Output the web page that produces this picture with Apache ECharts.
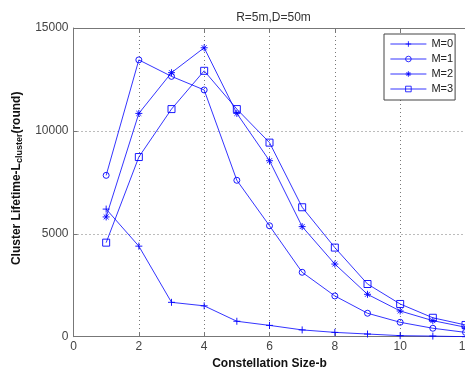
<!DOCTYPE html>
<html>
<head>
<meta charset="utf-8">
<script src="https://cdn.jsdelivr.net/npm/echarts@6/dist/echarts.min.js"></script>
<style>
  html, body { margin: 0; padding: 0; background: #fff; }
  #main { width: 465px; height: 370px; }
</style>
</head>
<body>
<div id="main"></div>
<script>
// constellation size b
var sizes = [1, 2, 3, 4, 5, 6, 7, 8, 9, 10, 11, 12];
var m0 = [6200, 4400, 1670, 1500, 750, 550, 330, 210, 130, 50, 30, 0];
var m1 = [7840, 13450, 12650, 11990, 7600, 5390, 3130, 1980, 1140, 700, 410, 210];
var m2 = [5820, 10850, 12830, 14040, 10850, 8550, 5350, 3530, 2060, 1250, 780, 460];
var m3 = [4570, 8730, 11060, 12920, 11060, 9430, 6290, 4330, 2560, 1590, 920, 570];
var seriesNames = ['M=0', 'M=1', 'M=2', 'M=3'];

function pairs(arr) {
  return sizes.map(function (b, i) { return [b, arr[i]]; });
}

// matlab style markers, stroked only
var plusPath = 'path://M5,0 L5,10 M0,5 L10,5';
var circlePath = 'path://M0,5 A5,5 0 1,0 10,5 A5,5 0 1,0 0,5 Z';
var starPath = 'path://M5,0 L5,10 M0,5 L10,5 M1.5,1.5 L8.5,8.5 M1.5,8.5 L8.5,1.5';
var squarePath = 'path://M0,0 L10,0 L10,10 L0,10 Z';

var blue = '#0000ff';
var font = 'Liberation Sans, Arial, sans-serif';

function mkSeries(name, data, symbol, size) {
  return {
    name: name,
    type: 'line',
    data: pairs(data),
    symbol: symbol,
    symbolSize: size,
    showAllSymbol: true,
    lineStyle: { color: blue, width: 0.8 },
    itemStyle: { color: 'none', borderColor: blue, borderWidth: 0.9 },
    emphasis: { disabled: true },
    z: 3
  };
}

var chart = echarts.init(document.getElementById('main'), null, { renderer: 'canvas' });

var option = {
  animation: false,
  title: {
    text: 'R=5m,D=50m',
    left: 268.5,
    textAlign: 'center',
    top: 7,
    textStyle: { fontSize: 12, fontWeight: 'normal', color: '#333', fontFamily: font }
  },
  legend: {
    data: seriesNames,
    orient: 'vertical',
    left: 384,
    top: 34,
    padding: [4, 2, 5, 6],
    itemWidth: 36,
    itemHeight: 7,
    itemGap: 3,
    borderColor: '#444',
    borderWidth: 1,
    borderRadius: 0,
    backgroundColor: '#fff',
    lineStyle: { width: 0.8 },
    itemStyle: { borderWidth: 0.8 },
    textStyle: { fontSize: 11, lineHeight: 12, color: '#222', fontFamily: font }
  },
  grid: { left: 73.5, top: 28, width: 392, bottom: 33.3, containLabel: false, outerBoundsMode: 'none' },
  xAxis: [{
    type: 'value',
    min: 0, max: 12, interval: 2,
    name: 'Constellation Size-b',
    nameLocation: 'middle',
    nameGap: 18,
    nameTextStyle: { fontSize: 12, fontWeight: 'bold', color: '#111', fontFamily: font },
    axisLine: { lineStyle: { color: '#777', width: 1 } },
    axisTick: { inside: true, length: 4, lineStyle: { color: '#777' } },
    axisLabel: { fontSize: 12, color: '#444', fontFamily: font, margin: 4, showMaxLabel: true },
    splitLine: { show: true, lineStyle: { color: '#555', type: [1, 3], width: 0.8 } }
  }, {
    type: 'value',
    position: 'top',
    min: 0, max: 12, interval: 2,
    axisLine: { lineStyle: { color: '#777', width: 1 } },
    axisTick: { inside: true, length: 4, lineStyle: { color: '#777' } },
    axisLabel: { show: false },
    splitLine: { show: false }
  }],
  yAxis: {
    type: 'value',
    min: 0, max: 15000, interval: 5000,
    name: '{a|Cluster Lifetime-L}{b|cluster}{a|(round)}',
    nameLocation: 'middle',
    nameGap: 48,
    nameTextStyle: {
      padding: [0, 0, 0, 8],
      rich: {
        a: { fontSize: 12, fontWeight: 'bold', color: '#111', fontFamily: font, lineHeight: 14 },
        b: { fontSize: 9, fontWeight: 'bold', color: '#111', fontFamily: font, verticalAlign: 'bottom', padding: [6, 0, 0, 0] }
      }
    },
    axisLine: { show: true, lineStyle: { color: '#777', width: 1 } },
    axisTick: { show: true, inside: true, length: 4, lineStyle: { color: '#777' } },
    axisLabel: { fontSize: 12, color: '#444', fontFamily: font, margin: 5, formatter: function (v) { return String(v); } },
    splitLine: { show: true, lineStyle: { color: '#555', type: [1, 3], width: 0.8 } }
  },
  series: [
    mkSeries('M=0', m0, plusPath, 7),
    mkSeries('M=1', m1, circlePath, 6),
    mkSeries('M=2', m2, starPath, 7),
    mkSeries('M=3', m3, squarePath, 7)
  ]
};

chart.setOption(option);
</script>
</body>
</html>
